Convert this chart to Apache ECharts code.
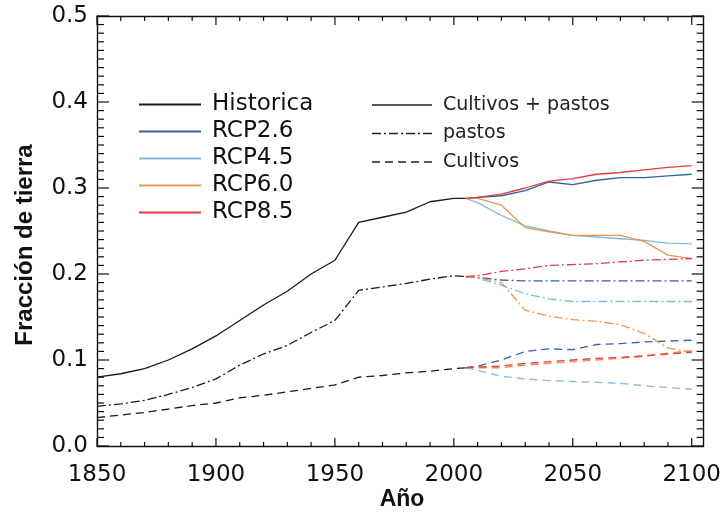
<!DOCTYPE html>
<html>
<head>
<meta charset="utf-8">
<script src="https://cdn.jsdelivr.net/npm/echarts@6/dist/echarts.min.js"></script>
<style>html,body{margin:0;padding:0;background:#fff}#c{width:724px;height:519px}</style>
</head>
<body>
<div id="c"></div>
<script>
// ---- data ----
const histYears = [1850,1860,1870,1880,1890,1900,1910,1920,1930,1940,1950,1960,1970,1980,1990,2000,2005];
const histTotal    = [0.080,0.084,0.090,0.100,0.113,0.128,0.146,0.164,0.180,0.200,0.216,0.260,0.266,0.272,0.284,0.288,0.288];
const histPastos   = [0.046,0.049,0.053,0.060,0.068,0.078,0.094,0.107,0.117,0.132,0.146,0.181,0.185,0.189,0.194,0.198,0.197];
const histCultivos = [0.033,0.036,0.039,0.043,0.047,0.050,0.056,0.059,0.063,0.067,0.071,0.080,0.082,0.085,0.087,0.090,0.091];

const futYears = [2005,2010,2020,2030,2040,2050,2060,2070,2080,2090,2100];
const rcp26Total = [0.288,0.289,0.291,0.297,0.307,0.304,0.309,0.312,0.312,0.314,0.316];
const rcp45Total = [0.288,0.283,0.268,0.256,0.250,0.245,0.243,0.241,0.239,0.236,0.235];
const rcp60Total = [0.288,0.288,0.280,0.254,0.249,0.245,0.245,0.245,0.238,0.222,0.218];
const rcp85Total = [0.288,0.289,0.293,0.300,0.308,0.311,0.316,0.318,0.321,0.324,0.326];

const rcp26Pastos = [0.197,0.196,0.193,0.192,0.192,0.192,0.192,0.192,0.192,0.192,0.192];
const rcp45Pastos = [0.197,0.195,0.187,0.177,0.171,0.168,0.168,0.168,0.168,0.168,0.168];
const rcp60Pastos = [0.197,0.196,0.190,0.158,0.151,0.147,0.145,0.141,0.131,0.114,0.109];
const rcp85Pastos = [0.197,0.198,0.203,0.206,0.210,0.211,0.212,0.214,0.216,0.217,0.218];

const rcp26Cultivos = [0.091,0.093,0.100,0.110,0.113,0.112,0.118,0.119,0.121,0.122,0.123];
const rcp45Cultivos = [0.091,0.088,0.081,0.078,0.076,0.075,0.074,0.073,0.070,0.068,0.066];
const rcp60Cultivos = [0.091,0.091,0.091,0.094,0.096,0.098,0.100,0.102,0.104,0.108,0.111];
const rcp85Cultivos = [0.091,0.092,0.093,0.096,0.098,0.100,0.102,0.103,0.105,0.107,0.109];

const scenarioNames = ['Historica','RCP2.6','RCP4.5','RCP6.0','RCP8.5'];
const typeNames = ['Cultivos + pastos','pastos','Cultivos'];
const xTicks = [1850,1900,1950,2000,2050,2100];
const yTicks = [0.0,0.1,0.2,0.3,0.4,0.5];

// ---- styles ----
const colors = {'Historica':'#1a1a1a','RCP2.6':'#35629c','RCP4.5':'#80bade','RCP6.0':'#e8964e','RCP8.5':'#e03c44'};
const dashStyles = {'Cultivos + pastos':'solid','pastos':[9,3,2,3],'Cultivos':[8,5]};

function zip(xs, ys){ return xs.map((x,i)=>[x, ys[i]]); }
function lineSeries(name, years, vals, kind){
  return {
    type:'line', name:name, data:zip(years, vals), symbol:'none', showSymbol:false,
    xAxisIndex:0, yAxisIndex:0,
    lineStyle:{color:colors[name], width:1.3, type:dashStyles[kind]},
    itemStyle:{color:colors[name]}
  };
}

const series = [];
const groups = [
  ['Historica', histYears, histTotal, histPastos, histCultivos],
  ['RCP2.6', futYears, rcp26Total, rcp26Pastos, rcp26Cultivos],
  ['RCP4.5', futYears, rcp45Total, rcp45Pastos, rcp45Cultivos],
  ['RCP6.0', futYears, rcp60Total, rcp60Pastos, rcp60Cultivos],
  ['RCP8.5', futYears, rcp85Total, rcp85Pastos, rcp85Cultivos]
];
groups.forEach(g=>{ series.push(lineSeries(g[0], g[1], g[2], 'Cultivos + pastos')); });
groups.forEach(g=>{
  series.push(lineSeries(g[0], g[1], g[3], 'pastos'));
  series.push(lineSeries(g[0], g[1], g[4], 'Cultivos'));
});

// ---- inward tick marks on all four sides, placed through the axes' scales ----
const minorXTicks = [];
for (let yr = 1860; yr < 2105; yr += 10) { if (xTicks.indexOf(yr) < 0) minorXTicks.push(yr); }
const minorYTicks = [];
for (let k = 1; k < 50; k++) { if (k % 10 !== 0) minorYTicks.push(k / 100); }
const tickData = xTicks.map(v=>[v,0])
  .concat(minorXTicks.map(v=>[v,1]))
  .concat(yTicks.map(v=>[v,2]))
  .concat(minorYTicks.map(v=>[v,3]));

function renderTick(params, api){
  const v = api.value(0), kind = api.value(1);
  const w = 1.2, fill = '#111';
  if (kind < 2) {
    const lenB = kind === 0 ? 8 : 4, lenT = kind === 0 ? 9 : 5;
    const b = api.coord([v, 0]), t = api.coord([v, 0.5]);
    return {type:'group', children:[
      {type:'rect', shape:{x:b[0]-w/2, y:b[1]-lenB, width:w, height:lenB}, style:{fill:fill}},
      {type:'rect', shape:{x:t[0]-w/2, y:t[1], width:w, height:lenT}, style:{fill:fill}}
    ]};
  }
  const len = kind === 2 ? 12 : 7;
  const l = api.coord([1850, v]), r = api.coord([2105, v]);
  return {type:'group', children:[
    {type:'rect', shape:{x:l[0], y:l[1]-w/2, width:len, height:w}, style:{fill:fill}},
    {type:'rect', shape:{x:r[0]-len, y:r[1]-w/2, width:len, height:w}, style:{fill:fill}}
  ]};
}
series.push({type:'custom', name:'ticks', data:tickData, renderItem:renderTick,
  encode:{x:0, y:1}, clip:false, silent:true, z:3, animation:false,
  xAxisIndex:0, yAxisIndex:0});

// second legend (line-style key) drawn as graphic lines + real text
const key2Top = 105, key2Gap = 28.5, key2Left = 372;
const key2 = [];
typeNames.forEach((t,i)=>{
  const y = key2Top + i*key2Gap;
  key2.push({type:'line', shape:{x1:key2Left, y1:y, x2:key2Left+60, y2:y},
    style:{stroke:'#222', lineWidth:1.3, lineDash: dashStyles[t]==='solid' ? null : dashStyles[t]}});
  key2.push({type:'text', x:key2Left+71, y:y,
    style:{text:t, font:'19px "DejaVu Sans"', fill:'#222', textAlign:'left', textVerticalAlign:'middle'}});
});

const axisFont = {fontFamily:'DejaVu Sans', fontSize:23, color:'#111'};
const lineCol = {color:'#111', width:1.4};

const chart = echarts.init(document.getElementById('c'));
chart.setOption({
  backgroundColor:'#fff',
  animation:false,
  grid:{left:97, right:17, top:16, bottom:73},
  xAxis:[
    {type:'value', min:1850, max:2105, interval:50, position:'bottom',
     axisLine:{show:true, onZero:false, lineStyle:lineCol}, axisTick:{show:false}, splitLine:{show:false},
     axisLabel:Object.assign({show:true, margin:18, formatter:v=> xTicks.indexOf(v)>=0 ? String(v) : ''}, axisFont)},
    {type:'value', min:1850, max:2105, interval:50, position:'top',
     axisLine:{show:true, onZero:false, lineStyle:lineCol}, axisTick:{show:false}, splitLine:{show:false},
     axisLabel:{show:false}}
  ],
  yAxis:[
    {type:'value', min:0, max:0.5, interval:0.1, position:'left',
     axisLine:{show:true, onZero:false, lineStyle:lineCol}, axisTick:{show:false}, splitLine:{show:false},
     axisLabel:Object.assign({show:true, margin:9, padding:[5,0,0,0], formatter:v=> v.toFixed(1)}, axisFont)},
    {type:'value', min:0, max:0.5, interval:0.1, position:'right',
     axisLine:{show:true, onZero:false, lineStyle:lineCol}, axisTick:{show:false}, splitLine:{show:false},
     axisLabel:{show:false}}
  ],
  legend:{data:scenarioNames, orient:'vertical', left:133, top:88, itemWidth:62, itemHeight:2, itemGap:4,
     selectedMode:false, itemStyle:{opacity:0},
     textStyle:{fontFamily:'DejaVu Sans', fontSize:23, lineHeight:23, color:'#111', padding:[0,0,0,6]}},
  graphic:[
    {type:'text', x:25, y:245, rotation:Math.PI/2,
     style:{text:'Fracción de tierra', font:'bold 24px "Liberation Sans"', fill:'#111', textAlign:'center', textVerticalAlign:'middle'}},
    {type:'text', x:402, y:500,
     style:{text:'Año', font:'bold 23px "Liberation Sans"', fill:'#111', textAlign:'center', textVerticalAlign:'middle'}}
  ].concat(key2),
  series:series
});
</script>
</body>
</html>
